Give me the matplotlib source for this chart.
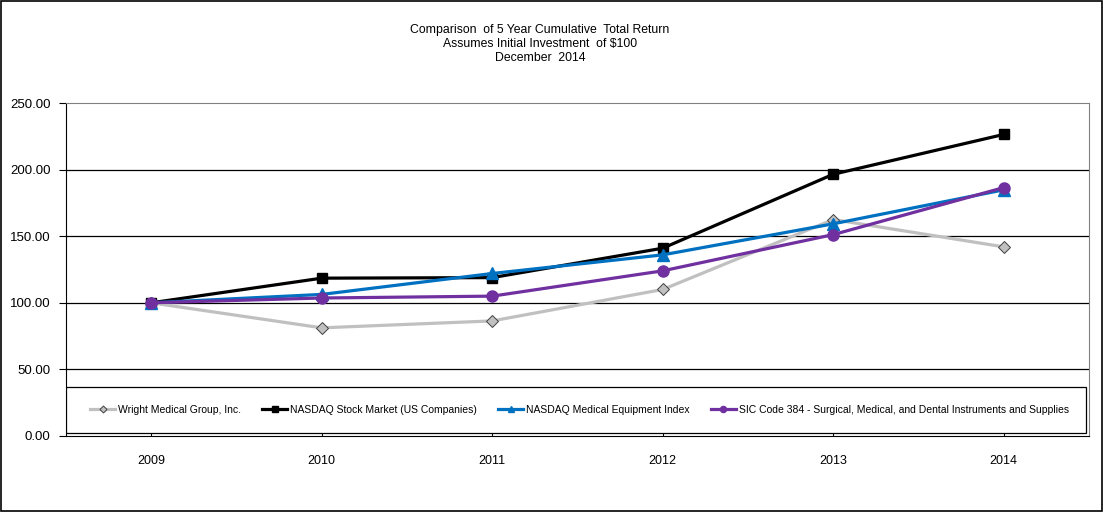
import matplotlib
matplotlib.use('Agg')
import matplotlib.pyplot as plt
from matplotlib.patches import Rectangle
from matplotlib.ticker import FormatStrFormatter

years = ['2009', '2010', '2011', '2012', '2013', '2014']
wright = [100.00, 81.2, 86.4, 110.0, 162.5, 142.0]
nasdaq = [100.00, 118.5, 118.9, 141.0, 196.5, 226.4]
med_equip = [100.00, 106.3, 122.0, 136.0, 159.3, 184.8]
sic_384 = [100.00, 103.6, 105.0, 124.0, 151.2, 186.5]

title = ('Comparison  of 5 Year Cumulative  Total Return\n'
         'Assumes Initial Investment  of $100\n'
         'December  2014')

plt.rcParams['font.family'] = ['Liberation Sans', 'DejaVu Sans']

fig = plt.figure(figsize=(11.04, 5.12), dpi=100)
ax = fig.add_axes([66 / 1104, 76 / 512, 1023 / 1104, 333 / 512])

x = list(range(len(years)))
ax.plot(x, wright, color='#C0C0C0', lw=2.3, marker='D', ms=6.5,
        mfc='#C0C0C0', mec='#404040', mew=0.7, label='Wright Medical Group, Inc.', zorder=3)
ax.plot(x, nasdaq, color='black', lw=2.3, marker='s', ms=7,
        label='NASDAQ Stock Market (US Companies)', zorder=4)
ax.plot(x, med_equip, color='#0070C0', lw=2.3, marker='^', ms=8,
        label='NASDAQ Medical Equipment Index', zorder=5)
ax.plot(x, sic_384, color='#7030A0', lw=2.3, marker='o', ms=8,
        label='SIC Code 384 - Surgical, Medical, and Dental Instruments and Supplies', zorder=6)

ax.set_xlim(-0.5, 5.5)
ax.set_ylim(0, 250)
ax.set_yticks([0, 50, 100, 150, 200, 250])
ax.yaxis.set_major_formatter(FormatStrFormatter('%.2f'))
ax.set_xticks(x)
ax.set_xticklabels(years)
ax.tick_params(axis='y', direction='out', length=5, labelsize=9.5, pad=6)
ax.tick_params(axis='x', direction='in', length=4, labelsize=9, pad=14)

for v in [50, 100, 150, 200]:
    ax.axhline(v, color='black', lw=0.9, zorder=1)

ax.spines['top'].set_color('#808080')
ax.spines['right'].set_color('#808080')
ax.spines['left'].set_color('black')
ax.spines['bottom'].set_color('black')

# legend box across the bottom of the plot area
ax.add_patch(Rectangle((-0.5, 2.3), 5.98, 34.5, facecolor='white',
                       edgecolor='black', lw=0.9, zorder=7))
leg = ax.legend(loc='center', bbox_to_anchor=(0.502, 19.5 / 250),
                ncol=4, frameon=False, fontsize=7.5, handlelength=2.4,
                handletextpad=0.3, columnspacing=2.0, markerscale=0.55)
leg.set_zorder(8)
for line in leg.get_lines():
    line.set_linewidth(2.3)

fig.text(540 / 1104, 1 - 24 / 512, title, ha='center', va='top', fontsize=8.8,
         family=['Liberation Sans Narrow', 'Liberation Sans'], linespacing=1.2)

fig.add_artist(Rectangle((0.0005, 0.001), 0.998, 0.997, transform=fig.transFigure,
                         fill=False, edgecolor='black', lw=1.2))

fig.savefig('out.png', dpi=100)
